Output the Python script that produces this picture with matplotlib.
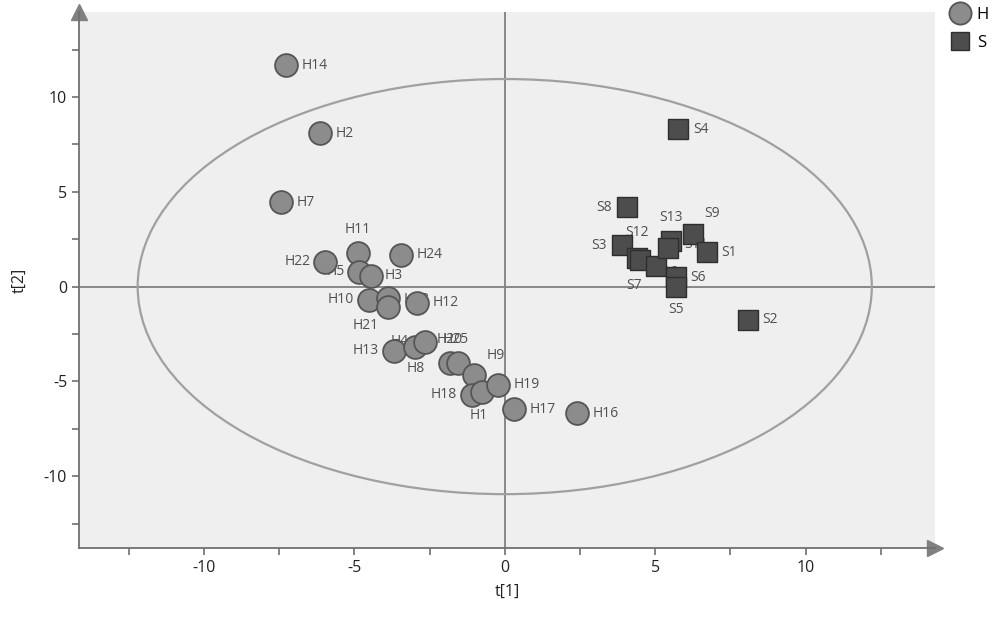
import matplotlib
matplotlib.use("Agg")
import matplotlib.pyplot as plt
from matplotlib.patches import Ellipse
from matplotlib.lines import Line2D

# score values (t[1], t[2])
h_names = ["H14", "H2", "H7", "H11", "H22", "H5", "H3", "H24", "H10", "H23", "H21", "H12",
           "H13", "H4", "H20", "H8", "H25", "H9", "H18", "H1", "H19", "H17", "H16"]
h_t1 = [-7.28, -6.15, -7.44, -4.88, -5.98, -4.85, -4.45, -3.46, -4.52, -3.89, -3.89, -2.92,
        -3.69, -2.99, -2.66, -1.83, -1.56, -1.03, -1.10, -0.76, -0.23, 0.30, 2.39]
h_t2 = [11.69, 8.10, 4.44, 1.75, 1.32, 0.79, 0.58, 1.69, -0.69, -0.58, -1.06, -0.85,
        -3.39, -3.17, -2.91, -4.02, -4.02, -4.66, -5.71, -5.56, -5.19, -6.46, -6.67]

s_names = ["S4", "S8", "S3", "S12", "S7", "S10", "S13", "S11", "S9", "S1", "S6", "S5", "S2"]
s_t1 = [5.75, 4.05, 3.89, 4.39, 4.49, 5.02, 5.51, 5.42, 6.25, 6.71, 5.68, 5.68, 8.07]
s_t2 = [8.31, 4.18, 2.17, 1.53, 1.38, 1.11, 2.38, 2.06, 2.75, 1.80, 0.48, 0.00, -1.75]

# Hotelling T2 ellipse half-axes
ell_a, ell_b = 12.2, 10.95

# label offsets in pixels (dx, dy, ha)
lab_off = {
    "H14": (16, 0, "left"), "H2": (16, 0, "left"), "H7": (16, 0, "left"),
    "H11": (0, 24, "center"), "H22": (-14, 0, "right"), "H5": (-14, 0, "right"),
    "H3": (14, 0, "left"), "H24": (16, 0, "left"), "H10": (-15, 0, "right"),
    "H23": (16, -2, "left"), "H21": (-22, -19, "center"), "H12": (16, 0, "left"),
    "H13": (-15, 0, "right"), "H4": (-15, 5, "center"), "H20": (12, 2, "left"),
    "H8": (-34, -6, "center"), "H25": (-15, 23, "left"), "H9": (22, 19, "center"),
    "H18": (-15, 0, "right"), "H1": (-3, -24, "center"), "H19": (16, 0, "left"),
    "H17": (16, 0, "left"), "H16": (16, 0, "left"),
    "S4": (16, 0, "left"), "S8": (-15, 0, "right"), "S3": (-15, 0, "right"),
    "S12": (0, 25, "center"), "S7": (-6, -25, "center"), "S10": (11, -7, "center"),
    "S13": (0, 24, "center"), "S11": (16, 3, "left"), "S9": (19, 21, "center"),
    "S1": (15, 0, "left"), "S6": (15, 0, "left"), "S5": (0, -23, "center"),
    "S2": (15, 0, "left"),
}

plt.rcParams['font.family'] = ['Open Sans', 'DejaVu Sans']
plt.rcParams['axes.unicode_minus'] = False

fig = plt.figure(figsize=(10, 6.18), dpi=100)
ax = fig.add_axes([0.079, 0.113, 0.856, 0.868])
ax.set_facecolor("#efefef")
ax.set_xlim(-14.15, 14.3)
ax.set_ylim(-13.8, 14.5)

ax.axhline(0, color="#808080", lw=1.3, zorder=1)
ax.axvline(0, color="#808080", lw=1.3, zorder=1)
ax.add_patch(Ellipse((0, 0), 2 * ell_a, 2 * ell_b, fill=False, ec="#a0a0a0", lw=1.6, zorder=1))

for n, x, y in zip(h_names + s_names, h_t1 + s_t1, h_t2 + s_t2):
    dx, dy, ha = lab_off[n]
    ax.annotate(n, (x, y), xytext=(dx, dy), textcoords="offset pixels",
                ha=ha, va="center", fontsize=10, color="#505050", zorder=2)

ax.scatter(h_t1, h_t2, s=270, marker="o", c="#8c8c8c", edgecolors="#555555", linewidths=1.3, zorder=3)
ax.scatter(s_t1, s_t2, s=190, marker="s", c="#4d4d4d", edgecolors="#2e2e2e", linewidths=1.0, zorder=3)

for sp in ["top", "right"]:
    ax.spines[sp].set_visible(False)
for sp in ["left", "bottom"]:
    ax.spines[sp].set_color("#707070")
    ax.spines[sp].set_linewidth(1.3)
ax.plot(1, 0, ">", color="#808080", ms=11, transform=ax.transAxes, clip_on=False)
ax.plot(0, 1, "^", color="#808080", ms=11, transform=ax.transAxes, clip_on=False)

ax.set_xticks([-10, -5, 0, 5, 10])
ax.set_yticks([-10, -5, 0, 5, 10])
ax.set_xticks([-12.5, -7.5, -2.5, 2.5, 7.5, 12.5], minor=True)
ax.set_yticks([-12.5, -7.5, -2.5, 2.5, 7.5, 12.5], minor=True)
ax.tick_params(which="both", length=5, width=1.2, color="#707070", labelsize=11.5, labelcolor="#222222")
ax.set_xlabel("t[1]", fontsize=11.5, color="#222222", labelpad=6)
ax.set_ylabel("t[2]", fontsize=11.5, color="#222222", labelpad=12)

handles = [Line2D([], [], ls="", marker="o", ms=16, mfc="#8c8c8c", mec="#555555", mew=1.3),
           Line2D([], [], ls="", marker="s", ms=13, mfc="#4d4d4d", mec="#2e2e2e", mew=1.0)]
fig.legend(handles, ["H", "S"], loc="upper left", bbox_to_anchor=(0.945, 1.0), frameon=False,
           fontsize=12, handlelength=1.0, handletextpad=0.5, labelspacing=0.75,
           borderaxespad=0.1, borderpad=0.3)

fig.savefig("out.png", dpi=100)
